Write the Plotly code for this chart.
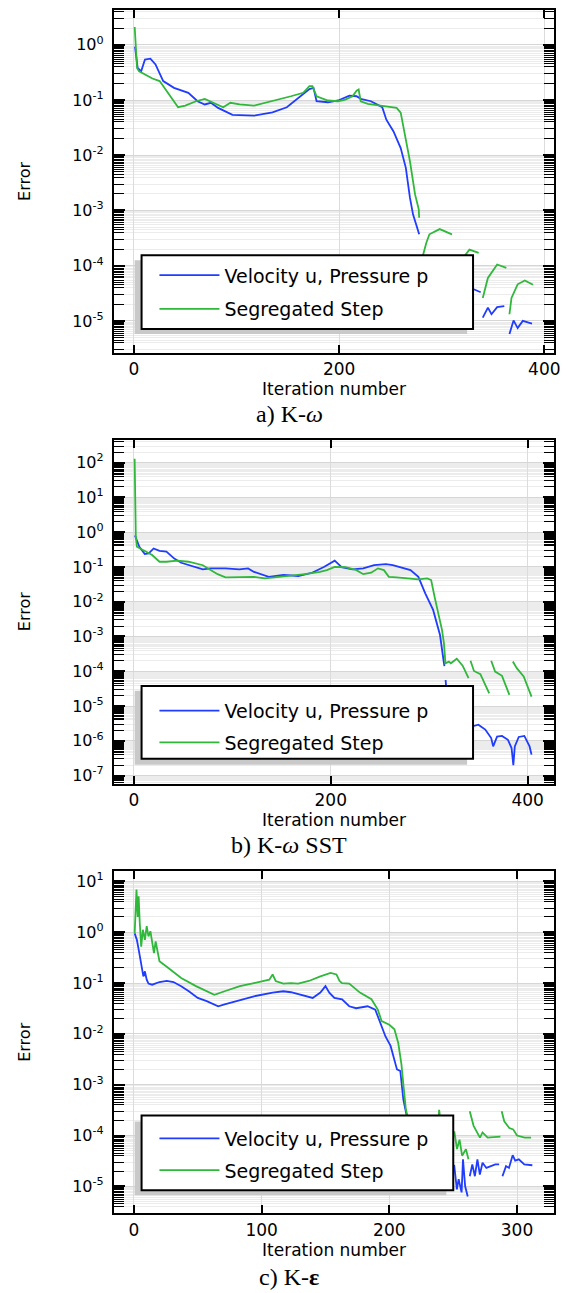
import plotly.graph_objects as go

N = None
# ---------------- Panel a) K-omega ----------------
a_blue_x = [1, 3.6, 7, 10.7, 16, 21, 28.5, 39, 53, 62, 69, 75, 82, 96, 117, 135, 149, 160, 171, 175, 178,
            189, 199, 210, 217, 221, 231, 242, 246, 253, 260, 265, 269, 272, 278,
            N, 325, 331, 338,
            N, 340, 345, 348.5, 354, 361,
            N, 366, 370, 374, 379, 388]
a_blue_y = [0.93, 0.38, 0.33, 0.54, 0.56, 0.44, 0.22, 0.166, 0.135, 0.095, 0.083, 0.089, 0.072, 0.054, 0.052,
            0.060, 0.074, 0.11, 0.158, 0.166, 0.095, 0.091, 0.098, 0.12, 0.117, 0.105, 0.095, 0.074, 0.044,
            0.027, 0.0135, 0.0059, 0.0017, 0.00085, 0.00037,
            N, 4.2e-5, 3.7e-5, 3.3e-5,
            N, 1.15e-5, 1.74e-5, 1.32e-5, 1.78e-5, 1.86e-5,
            N, 5.8e-6, 1.02e-5, 7.4e-6, 1.0e-5, 8.9e-6]
a_green_x = [0.7, 3, 5, 9, 18, 25, 32, 43, 50, 60.5, 69, 78, 87, 94, 103, 117, 135, 153, 165, 171, 174, 178,
             189, 199, 206, 213, 217, 219, 221, 228, 242, 249, 256, 260, 263, 269, 274, 277.6, 278,
             N, 279, 281, 285, 288, 298, 310,
             N, 318, 322, 327, 336,
             N, 340, 345, 354, 363,
             N, 366, 368, 374, 381, 389]
a_green_y = [2.1, 0.38, 0.33, 0.30, 0.245, 0.22, 0.145, 0.074, 0.079, 0.095, 0.105, 0.089, 0.074, 0.089, 0.083,
             0.079, 0.095, 0.117, 0.135, 0.178, 0.178, 0.117, 0.098, 0.095, 0.102, 0.117, 0.148, 0.155, 0.095,
             0.085, 0.078, 0.074, 0.072, 0.059, 0.031, 0.0078, 0.00195, 0.00105, 0.00074,
             N, 5e-5, 1.38e-4, 2.6e-4, 3.7e-4, 4.6e-4, 3.7e-4,
             N, 6.3e-5, 1.48e-4, 1.95e-4, 1.7e-4,
             N, 2.6e-5, 6.0e-5, 1.05e-4, 9.1e-5,
             N, 1.32e-5, 2.6e-5, 4.6e-5, 5.4e-5, 4.5e-5]

# ---------------- Panel b) K-omega SST ----------------
b_blue_x = [1, 3, 5.5, 11, 15, 20, 26, 33, 41, 48, 59, 70, 78, 93, 107, 116, 122, 137, 152, 167, 181, 193,
            204, 211, 222, 233, 244, 256, 263, 270, 281, 289, 296, 304, 309, 311, 315, 315.5,
            N, 316.7, 317.8, 325, 335, 344, 350, 357, 363, 365, 369, 374, 380, 383.7, 385.5, 387, 391,
            396.7, 402, 404]
b_blue_y = [0.8, 0.59, 0.38, 0.234, 0.245, 0.34, 0.29, 0.275, 0.174, 0.132, 0.105, 0.085, 0.091, 0.091, 0.085,
            0.091, 0.072, 0.052, 0.059, 0.055, 0.068, 0.1, 0.151, 0.098, 0.085, 0.091, 0.112, 0.12, 0.112,
            0.1, 0.081, 0.052, 0.0174, 0.0058, 0.0019, 0.0011, 0.00017, 0.00014,
            N, 5.6e-5, 2.3e-5, 6.3e-6, 3.2e-6, 2.6e-6, 2.9e-6, 2.1e-6, 1.2e-6, 6.9e-7, 1.32e-6, 1.38e-6,
            1.07e-6, 6.2e-7, 2.0e-7, 6.9e-7, 1.29e-6, 1.38e-6, 6.9e-7, 4.0e-7]
b_green_x = [0.7, 1.1, 1.9, 3, 11, 18.5, 26, 33, 44, 55.5, 70, 85, 93, 107, 122, 133, 148, 159, 174, 189, 196,
             204, 215, 226, 233, 241, 248, 254, 259, 267, 278, 289, 298, 302, 305.5, 309, 313, 315,
             316.5, 320, 322, 328, 334, 340,
             N, 342, 345.5, 352, 361,
             N, 363, 367, 374, 381.5,
             N, 385, 389, 396, 404]
b_green_y = [129, 3.5, 0.74, 0.38, 0.29, 0.22, 0.141, 0.141, 0.151, 0.141, 0.112, 0.062, 0.05, 0.052, 0.052,
             0.047, 0.052, 0.055, 0.062, 0.072, 0.081, 0.1, 0.098, 0.081, 0.062, 0.068, 0.091, 0.081, 0.052,
             0.05, 0.047, 0.044, 0.047, 0.042, 0.0138, 0.0051, 0.00155, 0.00063,
             1.7e-4, 1.9e-4, 1.7e-4, 2.3e-4, 1.45e-4, 6.3e-5,
             N, 2.0e-4, 1.02e-4, 8.3e-5, 2.3e-5,
             N, 2.0e-4, 9.8e-5, 7.4e-5, 2.1e-5,
             N, 1.9e-4, 1.23e-4, 7.1e-5, 1.86e-5]

# ---------------- Panel c) K-epsilon ----------------
c_blue_x = [0.6, 2.3, 3.7, 5, 6.3, 7.4, 8.6, 10, 11.4, 14.3, 20, 25.7, 31, 37, 43, 50, 57, 66, 71, 80, 94,
            108.6, 117, 123, 131, 140, 146, 150, 153, 157, 163, 168.6, 174, 183, 189, 193, 197, 201, 203,
            206, 208.6, 211, 213.7, 220, 235, 245, 250.9, 252.9, 254.3, 256.6, 257.7, 259.4, 261.4,
            N, 263, 265, 267, 269, 270.9, 273, 276, 279, 283, 286,
            N, 288.6, 291.4, 293.7, 296.6, 298.6, 301.4, 305.7, 312]
c_blue_y = [0.95, 0.71, 0.46, 0.29, 0.21, 0.135, 0.17, 0.117, 0.098, 0.093, 0.105, 0.11, 0.105, 0.087, 0.069,
            0.051, 0.044, 0.035, 0.038, 0.044, 0.055, 0.065, 0.069, 0.066, 0.059, 0.051, 0.065, 0.087, 0.065,
            0.051, 0.048, 0.035, 0.032, 0.035, 0.03, 0.0166, 0.0089, 0.0058, 0.0036, 0.002, 0.00186,
            0.00051, 0.00024, 6.3e-5, 3.2e-5, 2.0e-5, 2.5e-5, 8.7e-6, 1.38e-5, 7.6e-6, 3.4e-5, 1.0e-5, 6.3e-6,
            N, 1.58e-5, 2.7e-5, 1.58e-5, 3.4e-5, 1.7e-5, 2.9e-5, 2.3e-5, 2.5e-5, 2.7e-5, 2.7e-5,
            N, 1.58e-5, 2.5e-5, 2.3e-5, 4.1e-5, 3.2e-5, 3.4e-5, 2.7e-5, 2.6e-5]
c_green_x = [0.6, 1.4, 2, 3, 3.7, 4.6, 5.7, 7, 8.6, 10, 11.4, 12.9, 14.3, 15.7, 17, 18.6, 20, 25.7, 37, 48.6,
             63, 71, 83, 94, 106, 108.6, 111, 117, 123, 128.6, 137, 146, 154, 158.6, 161, 163, 168.6, 177,
             186, 191, 194, 200, 204, 207, 209.5, 211, 213, 214.3, 218, 225, 232, 238, 239, 241, 246, 251,
             253, 255, 257, 260, 262,
             N, 263, 266, 271, 273, 277, 287,
             N, 288, 290, 294, 297, 300, 306, 311]
c_green_y = [0.95, 2.75, 6.9, 2.0, 5.1, 1.5, 0.52, 1.12, 0.71, 1.32, 0.83, 1.05, 0.62, 0.39, 0.66, 0.42, 0.27,
             0.21, 0.126, 0.087, 0.059, 0.069, 0.087, 0.1, 0.117, 0.148, 0.11, 0.098, 0.1, 0.098, 0.11, 0.135,
             0.158, 0.148, 0.11, 0.1, 0.098, 0.065, 0.048, 0.03, 0.0178, 0.0151, 0.0123, 0.0066, 0.0025,
             0.001, 0.00032, 0.00024, 1.8e-4, 1.2e-4, 1.0e-4, 9e-5, 3.2e-4, 1.3e-4, 1.0e-4, 1.15e-4,
             5.4e-5, 8.3e-5, 4.0e-5, 5.4e-5, 3.4e-5,
             N, 3.0e-4, 1.55e-4, 9.1e-5, 1.15e-4, 9.1e-5, 9.5e-5,
             N, 3.0e-4, 1.9e-4, 1.4e-4, 1.32e-4, 1.0e-4, 9.1e-5, 9.1e-5]

series_names = ["Velocity u, Pressure p", "Segregated Step"]
captions = ["a) K-<i>ω</i>", "b) K-<i>ω</i> SST", "c) K-<b>ε</b>"]
a_x_ticks = [0, 200, 400]
b_x_ticks = [0, 200, 400]
c_x_ticks = [0, 100, 200, 300]
a_y_exps = [-5, -4, -3, -2, -1, 0]
b_y_exps = [-7, -6, -5, -4, -3, -2, -1, 0, 1, 2]
c_y_exps = [-5, -4, -3, -2, -1, 0, 1]

BLUE = "#1f3cff"
GREEN = "#2fb83a"
OFF = 8                      # page body margin of the browser
W, H = 576 - OFF, 1293 - OFF
FONT = "DejaVu Sans"


def px(x):
    return (x - OFF) / W


def py(y):
    return 1 - (y - OFF) / H


fig = go.Figure()

panels = [
    dict(bx=a_blue_x, by=a_blue_y, gx=a_green_x, gy=a_green_y, xt=a_x_ticks, ye=a_y_exps,
         xr=[-19.6, 409.6], yr=[-5.58, 0.63], top=8, bot=352,
         box=(143, 254, 478, 328), shadow=(136, 259, 472, 333), leg_top=255, gap=6, cap_y=413),
    dict(bx=b_blue_x, by=b_blue_y, gx=b_green_x, gy=b_green_y, xt=b_x_ticks, ye=b_y_exps,
         xr=[-20.4, 427], yr=[-7.23, 2.66], top=439, bot=784,
         box=(143, 686, 478, 759), shadow=(136, 691, 472, 765), leg_top=692, gap=4, cap_y=846),
    dict(bx=c_blue_x, by=c_blue_y, gx=c_green_x, gy=c_green_y, xt=c_x_ticks, ye=c_y_exps,
         xr=[-15.7, 329.1], yr=[-5.53, 1.2], top=872, bot=1215,
         box=(143, 1117, 458, 1192), shadow=(136, 1123, 451, 1197), leg_top=1121, gap=4, cap_y=1279),
]

shapes = []
annotations = []
layout_axes = {}
for i, p in enumerate(panels):
    n = i + 1
    sfx = "" if n == 1 else str(n)
    leg = "legend" if n == 1 else "legend%d" % n
    xa = "x" + sfx
    ya = "y" + sfx
    fig.add_trace(go.Scatter(x=p["bx"], y=p["by"], mode="lines", name=series_names[0],
                             line=dict(color=BLUE, width=1.8), connectgaps=False,
                             xaxis=xa, yaxis=ya, legend=leg, legendgroup="b%d" % n))
    fig.add_trace(go.Scatter(x=p["gx"], y=p["gy"], mode="lines", name=series_names[1],
                             line=dict(color=GREEN, width=1.8), connectgaps=False,
                             xaxis=xa, yaxis=ya, legend=leg, legendgroup="g%d" % n))
    dom_x = [px(115), px(560)]
    dom_y = [py(p["bot"]), py(p["top"])]
    major = [10.0 ** e for e in p["ye"]]
    texts = ["10<sup>%s</sup>" % (str(e) if e >= 0 else "-" + str(-e)) for e in p["ye"]]
    lo = int(p["yr"][0]) - 2
    hi = int(p["yr"][1]) + 2
    mvals = []
    for k in range(lo, hi):
        for m in [2, 3, 4, 4.5, 5, 5.5, 6, 6.5, 7, 7.5, 8, 8.5, 9, 9.5]:
            mvals.append(m * 10.0 ** k)
    layout_axes["xaxis" + sfx] = dict(
        domain=dom_x, anchor=ya, range=p["xr"], tickmode="array", tickvals=p["xt"],
        ticks="inside", ticklen=8, tickwidth=2, tickcolor="black", mirror="ticks",
        showline=True, linewidth=2, linecolor="black", showgrid=True, gridcolor="#dcdcdc",
        gridwidth=1, zeroline=False, ticklabelstandoff=0,
        tickfont=dict(family=FONT, size=17, color="black"),
        title=dict(text="Iteration number", font=dict(family=FONT, size=17, color="black"), standoff=0))
    layout_axes["yaxis" + sfx] = dict(
        domain=dom_y, anchor=xa, type="log", range=p["yr"], tickmode="array", tickvals=major,
        ticktext=texts, ticks="inside", ticklen=11, tickwidth=1.5, tickcolor="black", mirror="ticks",
        showline=True, linewidth=2, linecolor="black", showgrid=True, gridcolor="#d6d6d6",
        gridwidth=1, zeroline=False, ticklabelstandoff=5,
        tickfont=dict(family=FONT, size=16, color="black"),
        minor=dict(tickmode="array", tickvals=mvals, ticks="inside", ticklen=10, tickwidth=1,
                   tickcolor="black", showgrid=True, gridcolor="#ececec", gridwidth=1),
        title=dict(text="Error", font=dict(family=FONT, size=16, color="black"), standoff=38))
    sx0, sy0, sx1, sy1 = p["shadow"]
    shapes.append(dict(type="rect", xref="paper", yref="paper", x0=px(sx0), x1=px(sx1),
                       y0=py(sy1), y1=py(sy0), fillcolor="#c9c9c9", line=dict(width=0), layer="above"))
    bx0, by0, bx1, by1 = p["box"]
    shapes.append(dict(type="rect", xref="paper", yref="paper", x0=px(bx0), x1=px(bx1),
                       y0=py(by1), y1=py(by0), fillcolor="white", line=dict(color="black", width=2),
                       layer="above"))
    layout_axes[leg] = dict(x=px(156), y=py(p["leg_top"]), xanchor="left", yanchor="top",
                            bgcolor="rgba(0,0,0,0)", borderwidth=0, itemwidth=60,
                            tracegroupgap=p["gap"], font=dict(family=FONT, size=19, color="black"))
    annotations.append(dict(text=captions[i], xref="paper", yref="paper", x=px(292), y=py(p["cap_y"]),
                            xanchor="center", yanchor="middle", showarrow=False,
                            font=dict(family="Liberation Serif", size=24, color="black")))

fig.update_layout(width=W, height=H, margin=dict(l=0, r=0, t=0, b=0), paper_bgcolor="white",
                  plot_bgcolor="white", showlegend=True, shapes=shapes, annotations=annotations,
                  **layout_axes)
fig.write_html("out.html")
